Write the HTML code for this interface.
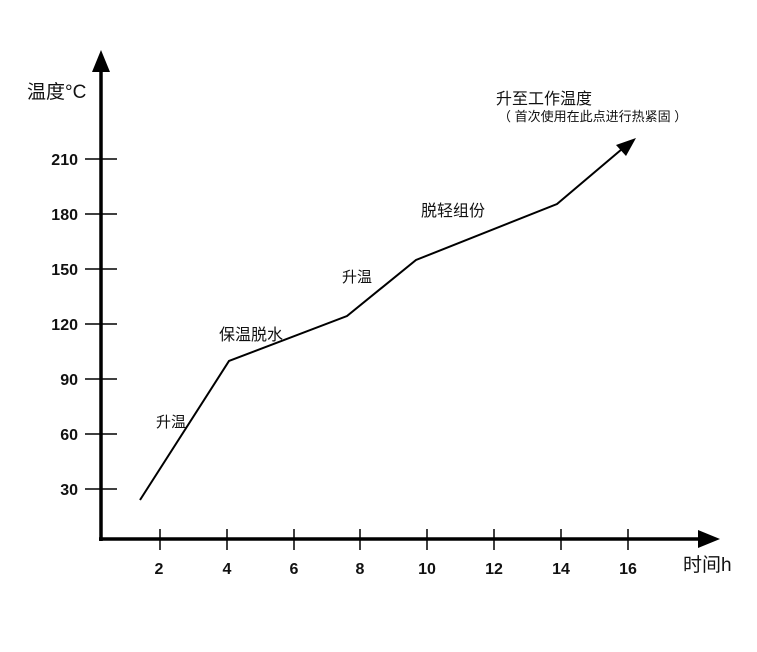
<!DOCTYPE html>
<html><head><meta charset="utf-8"><style>
html,body{margin:0;padding:0;background:#fff;}
svg{display:block}
text{font-family:"Liberation Sans","Noto Sans CJK SC",sans-serif;fill:#111}
.b{font-weight:bold;font-size:16px}
</style></head><body>
<svg width="757" height="652" viewBox="0 0 757 652">
<line x1="101" y1="541" x2="101" y2="68" stroke="#000" stroke-width="3.5"/>
<polygon points="101,50 92,72 110,72" fill="#000"/>
<line x1="99" y1="539" x2="702" y2="539" stroke="#000" stroke-width="3.5"/>
<polygon points="720,539 698,530 698,548" fill="#000"/>
<g stroke="#000" stroke-width="1.5">
<line x1="85" y1="489" x2="117" y2="489"/><line x1="85" y1="434" x2="117" y2="434"/>
<line x1="85" y1="379" x2="117" y2="379"/><line x1="85" y1="324" x2="117" y2="324"/>
<line x1="85" y1="269" x2="117" y2="269"/><line x1="85" y1="214" x2="117" y2="214"/>
<line x1="85" y1="159" x2="117" y2="159"/>
<line x1="160" y1="529" x2="160" y2="550"/><line x1="227" y1="529" x2="227" y2="550"/>
<line x1="294" y1="529" x2="294" y2="550"/><line x1="360" y1="529" x2="360" y2="550"/>
<line x1="427" y1="529" x2="427" y2="550"/><line x1="494" y1="529" x2="494" y2="550"/>
<line x1="561" y1="529" x2="561" y2="550"/><line x1="628" y1="529" x2="628" y2="550"/>
</g>
<g class="b" text-anchor="end">
<text x="78" y="495" class="b">30</text><text x="78" y="440" class="b">60</text>
<text x="78" y="385" class="b">90</text><text x="78" y="330" class="b">120</text>
<text x="78" y="275" class="b">150</text><text x="78" y="220" class="b">180</text>
<text x="78" y="165" class="b">210</text>
</g>
<g text-anchor="middle">
<text x="159" y="574" class="b">2</text><text x="227" y="574" class="b">4</text>
<text x="294" y="574" class="b">6</text><text x="360" y="574" class="b">8</text>
<text x="427" y="574" class="b">10</text><text x="494" y="574" class="b">12</text>
<text x="561" y="574" class="b">14</text><text x="628" y="574" class="b">16</text>
</g>
<text x="27" y="98" font-size="19">温度°C</text>
<text x="683" y="571" font-size="19">时间h</text>
<polyline points="140,500 229,361 347,316 416,260 557,204 622,149" fill="none" stroke="#000" stroke-width="2"/>
<polygon points="636,138 616,145 626,156" fill="#000"/>
<text x="156" y="427" font-size="15">升温</text>
<text x="219" y="340" font-size="16">保温脱水</text>
<text x="342" y="282" font-size="15">升温</text>
<text x="421" y="216" font-size="16">脱轻组份</text>
<text x="496" y="104" font-size="16">升至工作温度</text>
<text x="498" y="121" font-size="13">（ 首次使用在此点进行热紧固 ）</text>
</svg>
</body></html>
